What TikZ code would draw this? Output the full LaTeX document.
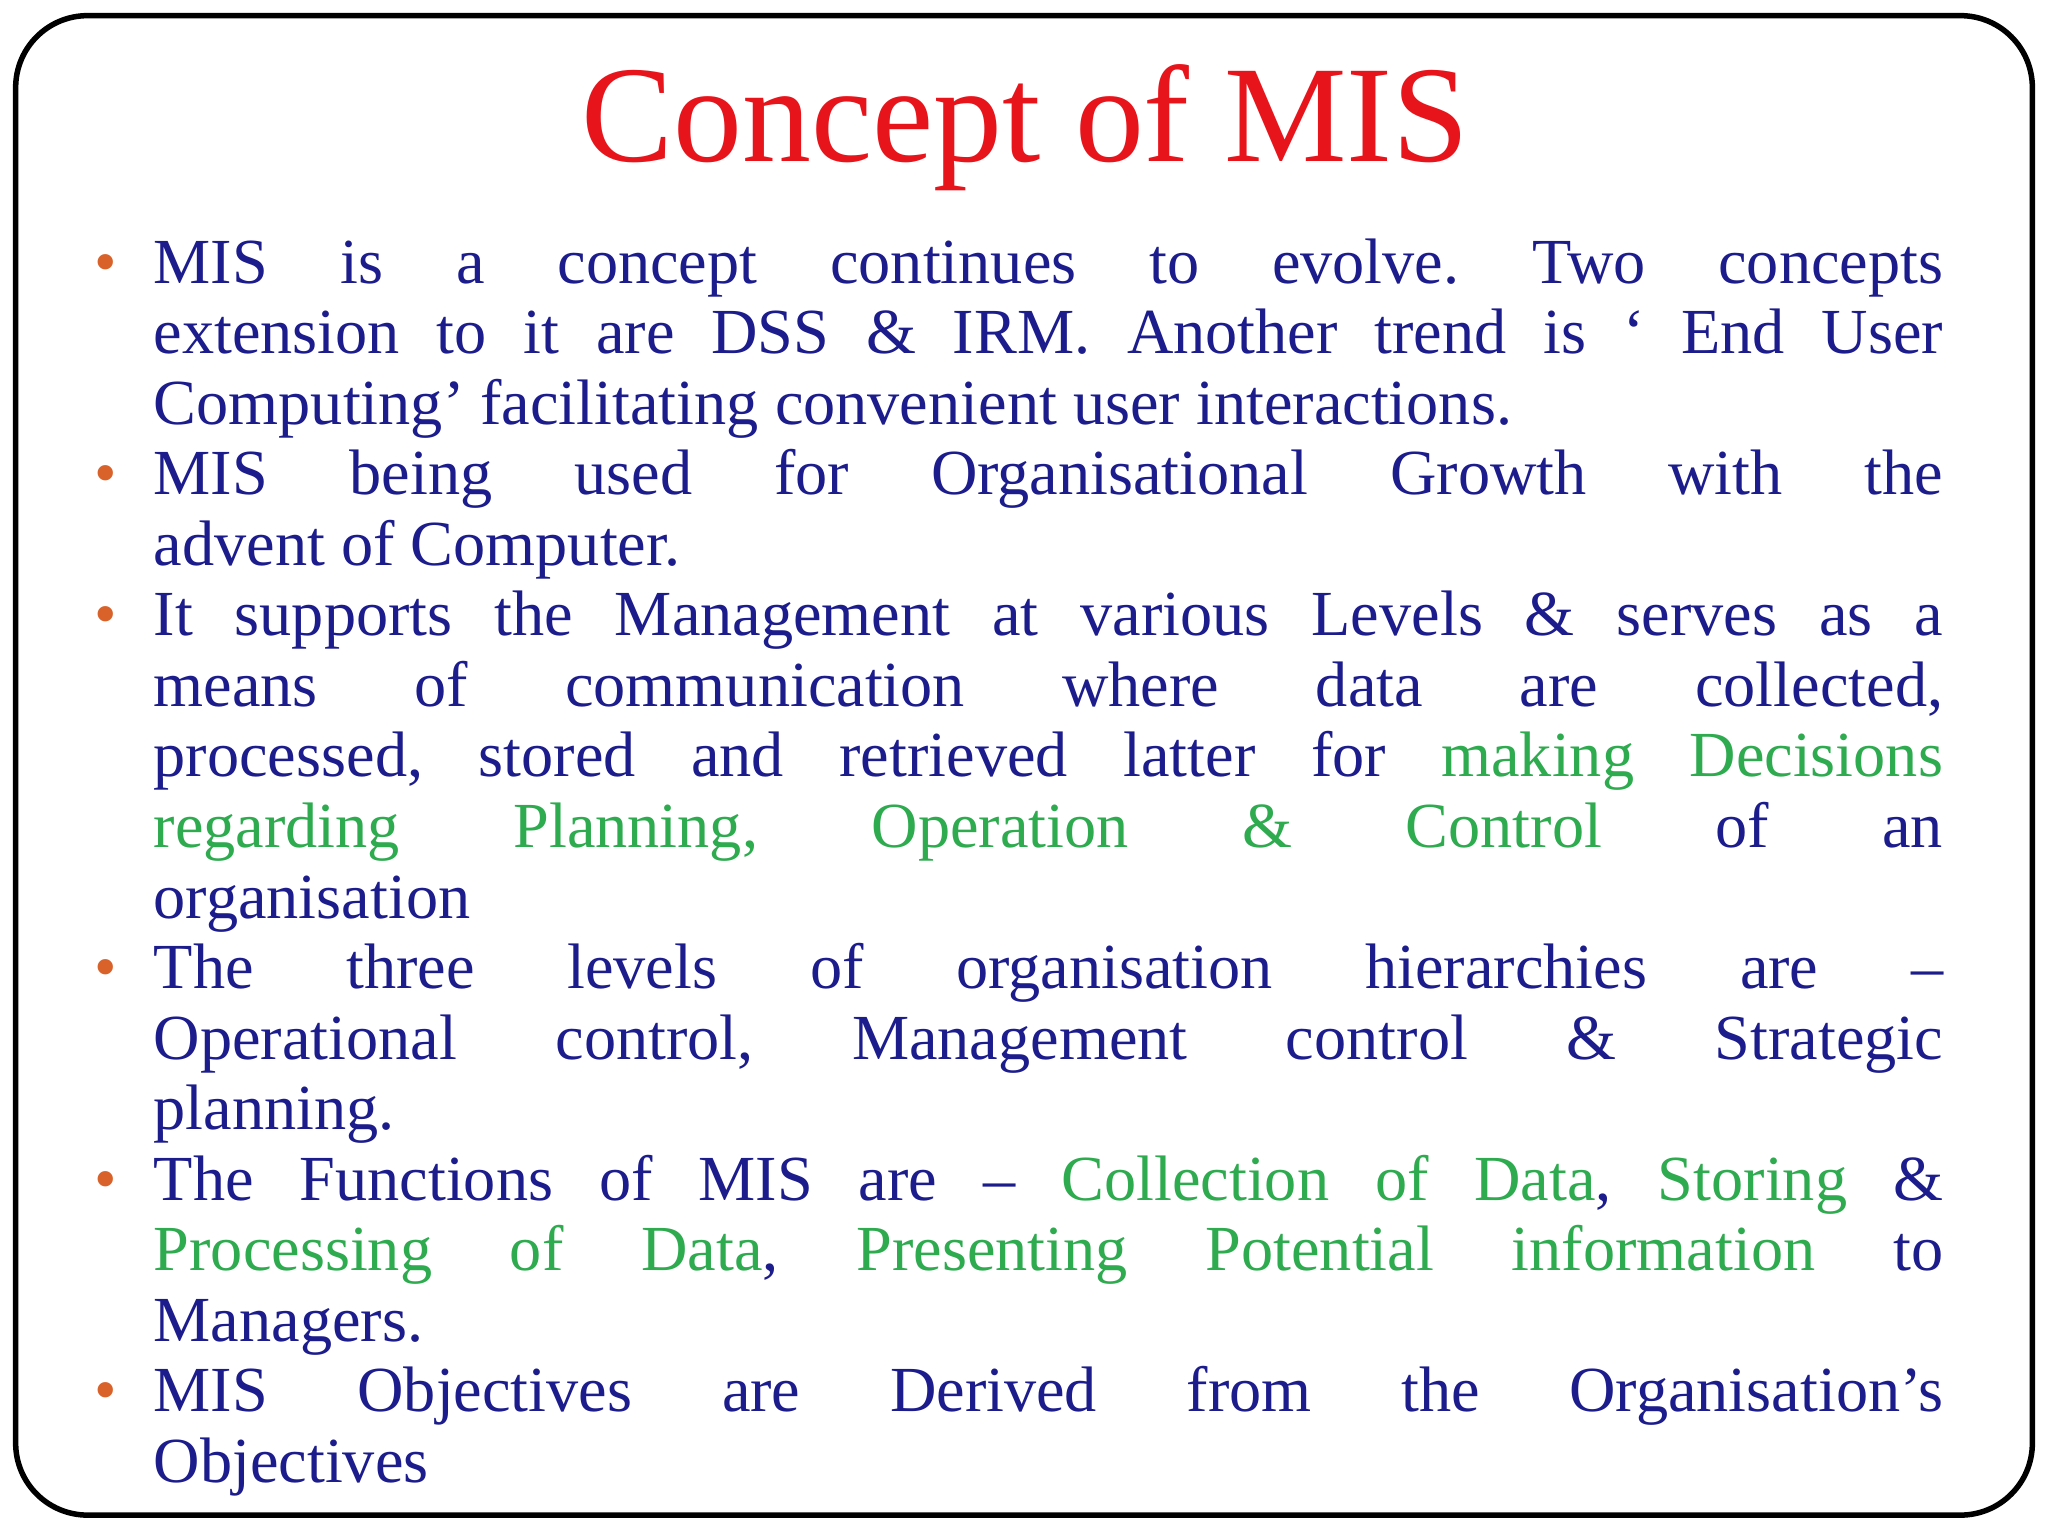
\documentclass[tikz,border=0pt]{standalone}
\usepackage{fontspec}
\setmainfont{Liberation Serif}
\definecolor{navy}{HTML}{1C1C8C}
\definecolor{grn}{HTML}{2EAA4F}
\definecolor{ttl}{HTML}{E8141B}
\definecolor{bul}{HTML}{D9622B}
\newcommand{\G}[1]{\textcolor{grn}{#1}}
\newcommand{\Bul}{\par\noindent\llap{\textcolor{bul}{\textbullet}\hspace{0.28cm}}}
\tikzset{frame/.style={draw=black,line width=1.2pt,rounded corners=0.55cm},
 body/.style={anchor=north west,inner sep=0pt,text width=13.7cm,align=justify,text=navy}}
\begin{document}
\begin{tikzpicture}[x=1cm,y=1cm]
\useasboundingbox (0,0) rectangle (15.68,-11.76);
\fill[white] (0,0) rectangle (15.68,-11.76);
\draw[frame] (0.12,-0.12) rectangle (15.56,-11.6);
\node[text=ttl,font=\fontsize{30}{30}\selectfont] (title) at (7.85,-0.98) {Concept of MIS};
\node[body] (text) at (1.17,-1.62) {\fontsize{14}{15.37}\selectfont\frenchspacing\parskip=0pt\parindent=0pt
\Bul MIS is a concept continues to evolve. Two concepts\linebreak extension to it are DSS \& IRM. Another trend is ‘ End User\linebreak Computing’ facilitating convenient user interactions.
\Bul MIS being used for Organisational Growth with the\linebreak advent of Computer.
\Bul It supports the Management at various Levels \& serves as a\linebreak means of communication where data are collected,\linebreak processed, stored and retrieved latter for \G{making Decisions}\linebreak \G{regarding Planning, Operation \& Control} of an\linebreak organisation
\Bul The three levels of organisation hierarchies are --\linebreak Operational control, Management control \& Strategic\linebreak planning.
\Bul The Functions of MIS are -- \G{Collection of Data}, \G{Storing} \&\linebreak \G{Processing of Data}, \G{Presenting Potential information} to\linebreak Managers.
\Bul MIS Objectives are Derived from the Organisation’s\linebreak Objectives\par};
\end{tikzpicture}
\end{document}
